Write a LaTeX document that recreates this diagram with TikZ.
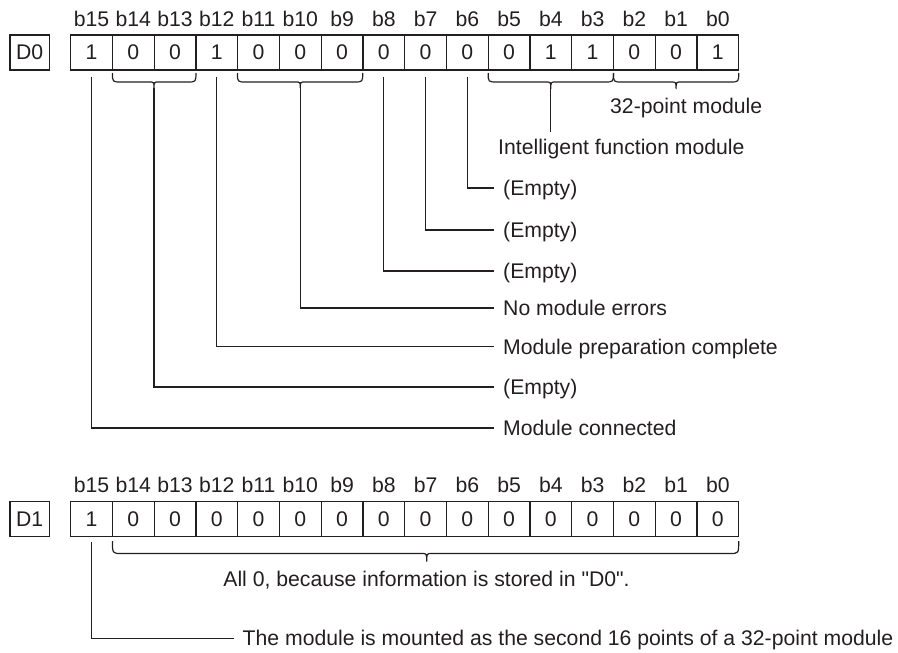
\documentclass[tikz,border=0pt]{standalone}
\usepackage{fontspec}
\setmainfont{Liberation Sans}[Ligatures=TeXOff]
\usetikzlibrary{calc}
\definecolor{ink}{HTML}{231F20}
\newcommand\fsz{\fontsize{21.2}{25}\selectfont}
% brace: x1, x2, xtip, ytop, yhoriz, ytip
\newcommand\brc[6]{%
  \draw[ln] (#1,#4) .. controls (#1,#5) .. ({#1+9},#5) -- ({#3-5},#5)
    .. controls (#3,#5) .. (#3,#6) .. controls (#3,#5) .. ({#3+5},#5)
    -- ({#2-9},#5) .. controls (#2,#5) .. (#2,#4);}
\begin{document}
\begin{tikzpicture}[x=1pt,y=-1pt,
  ln/.style={draw=ink, line width=1.2pt},
  cell/.style={draw=ink, line width=1.2pt, minimum width=41.75pt, minimum height=35pt, inner sep=0pt, text=ink, font=\fsz},
  reg/.style={cell, minimum width=39.3pt},
  bitl/.style={anchor=base, inner sep=0pt, text=ink, font=\fsz},
  lbl/.style={anchor=west, inner sep=0pt, text height=15.2pt, text depth=0pt, text=ink, font=\fsz}]
\useasboundingbox (0,0) rectangle (898,653);

% ---------- D0 row ----------
\node[reg] (r0) at (29.7,52.5) {D0};
\foreach \v [count=\i from 0] in {1,0,0,1,0,0,0,0,0,0,0,1,1,0,0,1}{
  \pgfmathtruncatemacro\b{15-\i}
  \node[cell] (a\b) at ({70.7+41.75*(\i+0.5)},52.5) {\v};
  \node[bitl] (ba\b) at ({70.7+41.75*(\i+0.5)},27) {b\b};
}

% braces D0
\brc{112.45}{195.95}{154}{73}{82}{88}
\coordinate (t1413) at (154,88);
\brc{237.45}{362.7}{300.3}{73}{82}{88}
\coordinate (t119) at (300.3,88);
\brc{488.2}{613.45}{550.8}{73}{82}{89}
\coordinate (t53) at (550.8,89);
\brc{613.45}{738.7}{676.1}{73}{82}{89}

% labels D0
\node[lbl] (p32) at (610,106) {32-point module};
\node[lbl] (ifm) at (498,146.7) {Intelligent function module};
\node[lbl] (e6) at (503,188) {(Empty)};
\node[lbl] (e7) at (503,230) {(Empty)};
\node[lbl] (e8) at (503,271) {(Empty)};
\node[lbl] (e9) at (503,308) {No module errors};
\node[lbl] (e12) at (503,346.5) {Module preparation complete};
\node[lbl] (e13) at (503,387) {(Empty)};
\node[lbl] (e15) at (503,428) {Module connected};

% connectors D0
\draw[ln] (t53) -- ($(t53 |- ifm.north)+(0,-7.4)$);
\draw[ln] ([yshift=-6pt]a6.south) |- ([xshift=-9pt]e6.west);
\draw[ln] ([yshift=-6pt]a7.south) |- ([xshift=-9pt]e7.west);
\draw[ln] ([yshift=-6pt]a8.south) |- ([xshift=-9pt]e8.west);
\draw[ln] (t119) |- ([xshift=-9pt]e9.west);
\draw[ln] ([yshift=-6pt]a12.south) |- ([xshift=-9pt]e12.west);
\draw[ln] (t1413) |- ([xshift=-9pt]e13.west);
\draw[ln] ([yshift=-6pt]a15.south) |- ([xshift=-9pt]e15.west);

% ---------- D1 row ----------
\node[reg] (r1) at (29.7,519) {D1};
\foreach \v [count=\i from 0] in {1,0,0,0,0,0,0,0,0,0,0,0,0,0,0,0}{
  \pgfmathtruncatemacro\b{15-\i}
  \node[cell] (d\b) at ({70.7+41.75*(\i+0.5)},519) {\v};
  \node[bitl] (bd\b) at ({70.7+41.75*(\i+0.5)},492.3) {b\b};
}
\brc{112.45}{738.7}{426.7}{541}{553.5}{561.7}
\node[bitl] (all0) at (426.5,586) {All 0, because information is stored in "D0".};
\node[lbl] (mnt) at (242.5,638.3) {The module is mounted as the second 16 points of a 32-point module};
\draw[ln] ([yshift=-5pt]d15.south) |- ([xshift=-9pt]mnt.west);
\end{tikzpicture}
\end{document}
